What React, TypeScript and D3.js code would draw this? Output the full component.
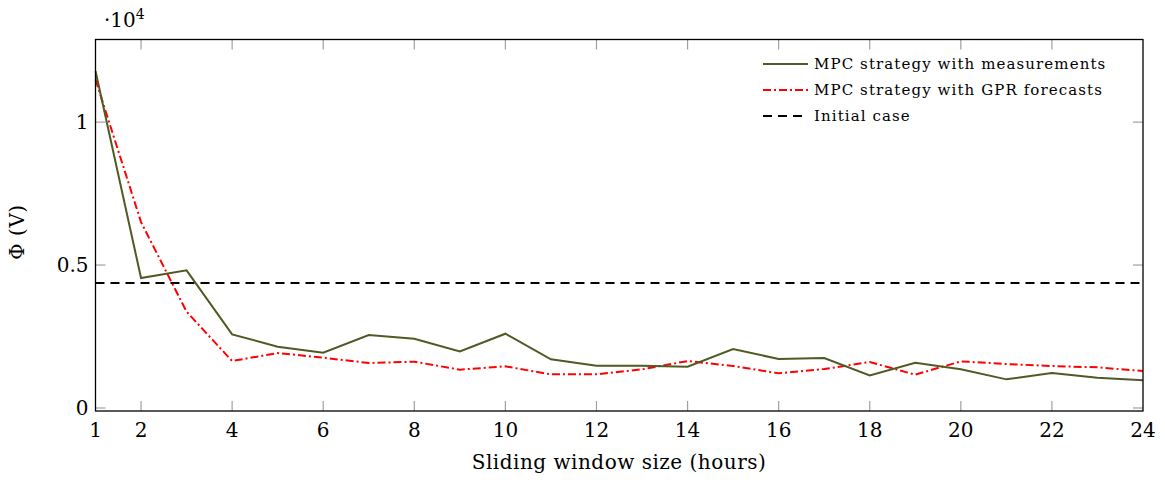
import React from "react";
import * as d3 from "d3";

const windowSizes = [1,2,3,4,5,6,7,8,9,10,11,12,13,14,15,16,17,18,19,20,21,22,23,24];
const mpcMeasurements = [11790,4545,4815,2576,2145,1935,2552,2424,1981,2599,1702,1480,1480,1445,2063,1713,1748,1142,1585,1352,1002,1224,1061,967];
const mpcGPR = [11492,6500,3368,1643,1923,1760,1573,1620,1340,1457,1177,1177,1352,1643,1468,1212,1364,1608,1166,1632,1538,1468,1422,1294];
const initialCase = 4370;
const xTicks = [1,2,4,6,8,10,12,14,16,18,20,22,24];
const yTicks = [0,5000,10000];
const yTickLabels = ["0","0.5","1"];
const seriesNames = ["MPC strategy with measurements","MPC strategy with GPR forecasts","Initial case"];

const W = 1165, H = 484;
const L = 95.5, R = 1143, T = 39.5, B = 411;
const FONT = "'DejaVu Serif', serif";
const OLIVE = "#4f5a24";

export default function App() {
  const x = d3.scaleLinear().domain([1, 24]).range([L, R]);
  const y = d3.scaleLinear().domain([-105, 12890]).range([B, T]);
  const line = d3.line<number>().x((_, i) => x(windowSizes[i])).y(d => y(d));
  const tickLen = 10;
  const legendX1 = 763, legendX2 = 808, legendY = [64, 90, 116];
  const legendStyles = [
    { stroke: OLIVE, dash: "none" },
    { stroke: "#ff0000", dash: "8 3 2 3" },
    { stroke: "#000", dash: "9 6" },
  ];
  return (
    <svg width={W} height={H} style={{ position: "absolute", left: 0, top: 0, background: "#fff" }}>
      <rect x={0} y={0} width={W} height={H} fill="#fff" />
      {xTicks.filter(t => t !== 1 && t !== 24).map(t => (
        <g key={"xt" + t} stroke="#a0a0a0" strokeWidth={1.2}>
          <line x1={x(t)} x2={x(t)} y1={B} y2={B - tickLen} />
          <line x1={x(t)} x2={x(t)} y1={T} y2={T + tickLen} />
        </g>
      ))}
      {yTicks.map(t => (
        <g key={"yt" + t} stroke="#a0a0a0" strokeWidth={1.2}>
          <line x1={L} x2={L + tickLen} y1={y(t)} y2={y(t)} />
          <line x1={R} x2={R - tickLen} y1={y(t)} y2={y(t)} />
        </g>
      ))}
      <line x1={L} x2={R} y1={y(initialCase)} y2={y(initialCase)} stroke="#000" strokeWidth={2} strokeDasharray="9 6" />
      <path d={line(mpcGPR) || ""} fill="none" stroke="#ff0000" strokeWidth={2} strokeDasharray="8 3 2 3" />
      <path d={line(mpcMeasurements) || ""} fill="none" stroke={OLIVE} strokeWidth={2} />
      <rect x={L} y={T} width={R - L} height={B - T} fill="none" stroke="#000" strokeWidth={1.3} />
      {xTicks.map(t => (
        <text key={"xl" + t} x={x(t)} y={437} textAnchor="middle" fontFamily={FONT} fontSize={20} fill="#000">{t}</text>
      ))}
      {yTicks.map((t, i) => (
        <text key={"yl" + t} x={L - 7} y={y(t) + 7} textAnchor="end" fontFamily={FONT} fontSize={20} fill="#000">{yTickLabels[i]}</text>
      ))}
      <text x={104} y={27} fontFamily={FONT} fontSize={20} fill="#000">·10<tspan dy={-8} fontSize={14}>4</tspan></text>
      <text x={619} y={469} textAnchor="middle" fontFamily={FONT} fontSize={20} letterSpacing={0.5} fill="#000">Sliding window size (hours)</text>
      <text transform={`translate(24,232) rotate(-90)`} textAnchor="middle" fontFamily={FONT} fontSize={20} letterSpacing={0.5} fill="#000">Φ (V)</text>
      {seriesNames.map((n, i) => (
        <g key={"lg" + i}>
          <line x1={legendX1} x2={legendX2} y1={legendY[i]} y2={legendY[i]} stroke={legendStyles[i].stroke} strokeWidth={2} strokeDasharray={legendStyles[i].dash} />
          <text x={814} y={legendY[i] + 5} fontFamily={FONT} fontSize={15} letterSpacing={1.1} fill="#000">{n}</text>
        </g>
      ))}
    </svg>
  );
}
